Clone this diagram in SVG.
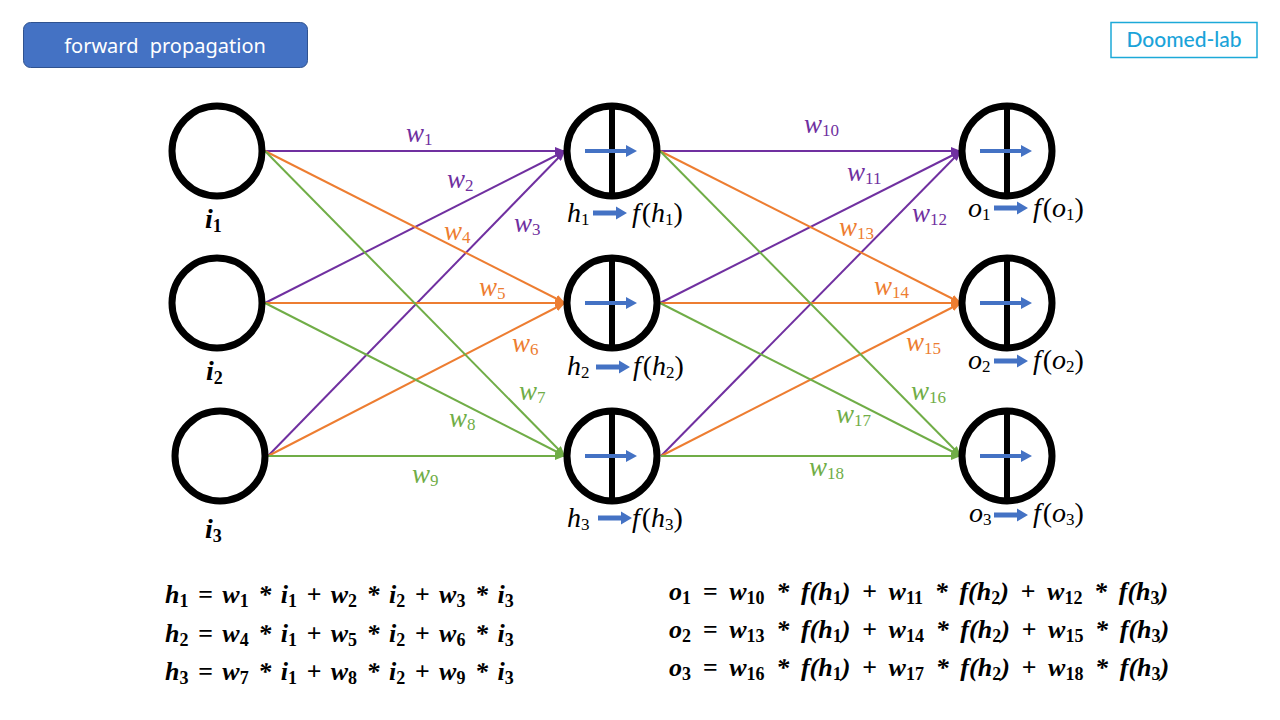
<svg xmlns="http://www.w3.org/2000/svg" xmlns:xlink="http://www.w3.org/1999/xlink" width="1280" height="720" viewBox="0 0 1280 720">
<style>
.node{fill:#fff;stroke:#000;stroke-width:7}
.div{stroke:#000;stroke-width:6}
.c{stroke-width:2;fill:none}
.p{stroke:#7030A0}.o{stroke:#ED7D31}.g{stroke:#70AD47}
.tp{fill:#7030A0}.to{fill:#ED7D31}.tg{fill:#70AD47}
.wl{font-family:"Liberation Serif","DejaVu Serif",serif;font-style:italic;font-size:27px}
.s{font-size:17px;font-style:normal}
.lab{font-family:"Liberation Serif","DejaVu Serif",serif;font-style:italic;font-size:28px;fill:#000}
.up{font-style:normal}
.il{font-family:"Liberation Serif","DejaVu Serif",serif;font-style:italic;font-weight:bold;font-size:28px;fill:#000}
.eq{font-family:"Liberation Serif","DejaVu Serif",serif;font-style:italic;font-weight:bold;font-size:26px;fill:#000}
.eqL{word-spacing:3px}
.eqR{word-spacing:5.2px}
.es{font-size:18px;font-style:normal}
</style>
<defs>
<marker id="mp" viewBox="0 0 10 8" refX="10" refY="4" markerWidth="10" markerHeight="8" markerUnits="userSpaceOnUse" orient="auto"><path d="M0,0 L10,4 L0,8 z" fill="#7030A0"/></marker>
<marker id="mo" viewBox="0 0 10 8" refX="10" refY="4" markerWidth="10" markerHeight="8" markerUnits="userSpaceOnUse" orient="auto"><path d="M0,0 L10,4 L0,8 z" fill="#ED7D31"/></marker>
<marker id="mg" viewBox="0 0 10 8" refX="10" refY="4" markerWidth="10" markerHeight="8" markerUnits="userSpaceOnUse" orient="auto"><path d="M0,0 L10,4 L0,8 z" fill="#70AD47"/></marker>
<path id="barrow" d="M0,-2 L41,-2 L41,-6 L52,0 L41,6 L41,2 L0,2 Z" fill="#4472C4"/>
<path id="sarrow" d="M0,-2.5 L23,-2.5 L23,-6.5 L34,0 L23,6.5 L23,2.5 L0,2.5 Z" fill="#4472C4"/>
</defs>
<rect width="1280" height="720" fill="#fff"/>

<g id="title">
<rect x="23.5" y="22.5" width="284" height="45" rx="7" fill="#4472C4" stroke="#2F528F" stroke-width="1"/>
<text x="165" y="53" text-anchor="middle" font-family="'Noto Sans','Liberation Sans',sans-serif" font-size="20" fill="#fff" word-spacing="6">forward propagation</text>
</g>
<g id="brand">
<rect x="1111" y="22.5" width="146" height="35" fill="#fff" stroke="#1CA9D8" stroke-width="1.5"/>
<text x="1184" y="46.5" text-anchor="middle" font-family="Lato,'Noto Sans',sans-serif" font-size="21" font-weight="500" fill="#1AA3D9">Doomed-lab</text>
</g>

<g id="connectors">
<line class="c p" x1="265" y1="151" x2="565" y2="151" marker-end="url(#mp)"/>
<line class="c p" x1="265" y1="303" x2="565" y2="151" marker-end="url(#mp)"/>
<line class="c p" x1="268" y1="456" x2="565" y2="151" marker-end="url(#mp)"/>
<line class="c o" x1="265" y1="151" x2="565" y2="303" marker-end="url(#mo)"/>
<line class="c o" x1="265" y1="303" x2="565" y2="303" marker-end="url(#mo)"/>
<line class="c o" x1="268" y1="456" x2="565" y2="303" marker-end="url(#mo)"/>
<line class="c g" x1="265" y1="151" x2="565" y2="456" marker-end="url(#mg)"/>
<line class="c g" x1="265" y1="303" x2="565" y2="456" marker-end="url(#mg)"/>
<line class="c g" x1="268" y1="456" x2="565" y2="456" marker-end="url(#mg)"/>

<line class="c p" x1="660" y1="151" x2="961" y2="151" marker-end="url(#mp)"/>
<line class="c p" x1="660" y1="303" x2="961" y2="151" marker-end="url(#mp)"/>
<line class="c p" x1="661" y1="456" x2="961" y2="151" marker-end="url(#mp)"/>
<line class="c o" x1="660" y1="151" x2="961" y2="303" marker-end="url(#mo)"/>
<line class="c o" x1="660" y1="303" x2="961" y2="303" marker-end="url(#mo)"/>
<line class="c o" x1="661" y1="456" x2="961" y2="303" marker-end="url(#mo)"/>
<line class="c g" x1="660" y1="151" x2="961" y2="456" marker-end="url(#mg)"/>
<line class="c g" x1="660" y1="303" x2="961" y2="456" marker-end="url(#mg)"/>
<line class="c g" x1="661" y1="456" x2="961" y2="456" marker-end="url(#mg)"/>
</g>

<g id="weights">
<text class="wl tp" x="406" y="142">w<tspan class="s" dy="3">1</tspan></text>
<text class="wl tp" x="447" y="188">w<tspan class="s" dy="3">2</tspan></text>
<text class="wl tp" x="514" y="232">w<tspan class="s" dy="3">3</tspan></text>
<text class="wl to" x="444" y="240">w<tspan class="s" dy="3">4</tspan></text>
<text class="wl to" x="479" y="296">w<tspan class="s" dy="3">5</tspan></text>
<text class="wl to" x="512" y="352">w<tspan class="s" dy="3">6</tspan></text>
<text class="wl tg" x="519" y="400">w<tspan class="s" dy="3">7</tspan></text>
<text class="wl tg" x="449" y="427">w<tspan class="s" dy="3">8</tspan></text>
<text class="wl tg" x="412" y="483">w<tspan class="s" dy="3">9</tspan></text>
<text class="wl tp" x="804" y="133">w<tspan class="s" dy="3">10</tspan></text>
<text class="wl tp" x="847" y="181">w<tspan class="s" dy="3">11</tspan></text>
<text class="wl tp" x="912" y="222">w<tspan class="s" dy="3">12</tspan></text>
<text class="wl to" x="839" y="236">w<tspan class="s" dy="3">13</tspan></text>
<text class="wl to" x="874" y="295">w<tspan class="s" dy="3">14</tspan></text>
<text class="wl to" x="906" y="351">w<tspan class="s" dy="3">15</tspan></text>
<text class="wl tg" x="911" y="400">w<tspan class="s" dy="3">16</tspan></text>
<text class="wl tg" x="836" y="423">w<tspan class="s" dy="3">17</tspan></text>
<text class="wl tg" x="809" y="476">w<tspan class="s" dy="3">18</tspan></text>
</g>

<g id="i1"><circle class="node" cx="217" cy="151" r="45"/><text class="il" x="205" y="228">i<tspan class="es" dy="4">1</tspan></text></g>
<g id="i2"><circle class="node" cx="217" cy="303" r="45"/><text class="il" x="206" y="380">i<tspan class="es" dy="4">2</tspan></text></g>
<g id="i3"><circle class="node" cx="220" cy="456" r="45"/><text class="il" x="205" y="538">i<tspan class="es" dy="4">3</tspan></text></g>

<g id="h1"><circle class="node" cx="612" cy="151" r="45"/><line class="div" x1="612" y1="106" x2="612" y2="196"/><use href="#barrow" x="585" y="151"/>
<text class="lab" x="567" y="222">h<tspan class="s" dy="3">1</tspan></text><use href="#sarrow" x="593" y="213"/><text class="lab" x="632" y="222">f<tspan class="up" dx="2">(</tspan>h<tspan class="s" dy="3">1</tspan><tspan class="up" dy="-3">)</tspan></text></g>
<g id="h2"><circle class="node" cx="612" cy="303" r="45"/><line class="div" x1="612" y1="258" x2="612" y2="348"/><use href="#barrow" x="585" y="303"/>
<text class="lab" x="567" y="375">h<tspan class="s" dy="3">2</tspan></text><use href="#sarrow" x="596" y="367"/><text class="lab" x="633" y="375">f<tspan class="up" dx="2">(</tspan>h<tspan class="s" dy="3">2</tspan><tspan class="up" dy="-3">)</tspan></text></g>
<g id="h3"><circle class="node" cx="612" cy="456" r="45"/><line class="div" x1="612" y1="411" x2="612" y2="501"/><use href="#barrow" x="585" y="456"/>
<text class="lab" x="567" y="527">h<tspan class="s" dy="3">3</tspan></text><use href="#sarrow" x="598" y="518"/><text class="lab" x="632" y="527">f<tspan class="up" dx="2">(</tspan>h<tspan class="s" dy="3">3</tspan><tspan class="up" dy="-3">)</tspan></text></g>

<g id="o1"><circle class="node" cx="1007" cy="151" r="45"/><line class="div" x1="1007" y1="106" x2="1007" y2="196"/><use href="#barrow" x="980" y="151"/>
<text class="lab" x="968" y="217">o<tspan class="s" dy="3">1</tspan></text><use href="#sarrow" x="994" y="208"/><text class="lab" x="1033" y="217">f<tspan class="up" dx="2">(</tspan>o<tspan class="s" dy="3">1</tspan><tspan class="up" dy="-3">)</tspan></text></g>
<g id="o2"><circle class="node" cx="1007" cy="303" r="45"/><line class="div" x1="1007" y1="258" x2="1007" y2="348"/><use href="#barrow" x="980" y="303"/>
<text class="lab" x="968" y="369">o<tspan class="s" dy="3">2</tspan></text><use href="#sarrow" x="994" y="361"/><text class="lab" x="1033" y="369">f<tspan class="up" dx="2">(</tspan>o<tspan class="s" dy="3">2</tspan><tspan class="up" dy="-3">)</tspan></text></g>
<g id="o3"><circle class="node" cx="1007" cy="456" r="45"/><line class="div" x1="1007" y1="411" x2="1007" y2="501"/><use href="#barrow" x="980" y="456"/>
<text class="lab" x="969" y="522">o<tspan class="s" dy="3">3</tspan></text><use href="#sarrow" x="994" y="515"/><text class="lab" x="1033" y="522">f<tspan class="up" dx="2">(</tspan>o<tspan class="s" dy="3">3</tspan><tspan class="up" dy="-3">)</tspan></text></g>

<g id="equations">
<text class="eq eqL" x="165" y="603">h<tspan class="es" dy="4">1</tspan><tspan dy="-4"> = w</tspan><tspan class="es" dy="4">1</tspan><tspan dy="-4"> * i</tspan><tspan class="es" dy="4">1</tspan><tspan dy="-4"> + w</tspan><tspan class="es" dy="4">2</tspan><tspan dy="-4"> * i</tspan><tspan class="es" dy="4">2</tspan><tspan dy="-4"> + w</tspan><tspan class="es" dy="4">3</tspan><tspan dy="-4"> * i</tspan><tspan class="es" dy="4">3</tspan></text>
<text class="eq eqL" x="165" y="642">h<tspan class="es" dy="4">2</tspan><tspan dy="-4"> = w</tspan><tspan class="es" dy="4">4</tspan><tspan dy="-4"> * i</tspan><tspan class="es" dy="4">1</tspan><tspan dy="-4"> + w</tspan><tspan class="es" dy="4">5</tspan><tspan dy="-4"> * i</tspan><tspan class="es" dy="4">2</tspan><tspan dy="-4"> + w</tspan><tspan class="es" dy="4">6</tspan><tspan dy="-4"> * i</tspan><tspan class="es" dy="4">3</tspan></text>
<text class="eq eqL" x="165" y="680">h<tspan class="es" dy="4">3</tspan><tspan dy="-4"> = w</tspan><tspan class="es" dy="4">7</tspan><tspan dy="-4"> * i</tspan><tspan class="es" dy="4">1</tspan><tspan dy="-4"> + w</tspan><tspan class="es" dy="4">8</tspan><tspan dy="-4"> * i</tspan><tspan class="es" dy="4">2</tspan><tspan dy="-4"> + w</tspan><tspan class="es" dy="4">9</tspan><tspan dy="-4"> * i</tspan><tspan class="es" dy="4">3</tspan></text>

<text class="eq eqR" x="669" y="600">o<tspan class="es" dy="4">1</tspan><tspan dy="-4"> = w</tspan><tspan class="es" dy="4">10</tspan><tspan dy="-4"> * f(h</tspan><tspan class="es" dy="4">1</tspan><tspan dy="-4">) + w</tspan><tspan class="es" dy="4">11</tspan><tspan dy="-4"> * f(h</tspan><tspan class="es" dy="4">2</tspan><tspan dy="-4">) + w</tspan><tspan class="es" dy="4">12</tspan><tspan dy="-4"> * f(h</tspan><tspan class="es" dy="4">3</tspan><tspan dy="-4">)</tspan></text>
<text class="eq eqR" x="669" y="638">o<tspan class="es" dy="4">2</tspan><tspan dy="-4"> = w</tspan><tspan class="es" dy="4">13</tspan><tspan dy="-4"> * f(h</tspan><tspan class="es" dy="4">1</tspan><tspan dy="-4">) + w</tspan><tspan class="es" dy="4">14</tspan><tspan dy="-4"> * f(h</tspan><tspan class="es" dy="4">2</tspan><tspan dy="-4">) + w</tspan><tspan class="es" dy="4">15</tspan><tspan dy="-4"> * f(h</tspan><tspan class="es" dy="4">3</tspan><tspan dy="-4">)</tspan></text>
<text class="eq eqR" x="669" y="676">o<tspan class="es" dy="4">3</tspan><tspan dy="-4"> = w</tspan><tspan class="es" dy="4">16</tspan><tspan dy="-4"> * f(h</tspan><tspan class="es" dy="4">1</tspan><tspan dy="-4">) + w</tspan><tspan class="es" dy="4">17</tspan><tspan dy="-4"> * f(h</tspan><tspan class="es" dy="4">2</tspan><tspan dy="-4">) + w</tspan><tspan class="es" dy="4">18</tspan><tspan dy="-4"> * f(h</tspan><tspan class="es" dy="4">3</tspan><tspan dy="-4">)</tspan></text>
</g>
</svg>
